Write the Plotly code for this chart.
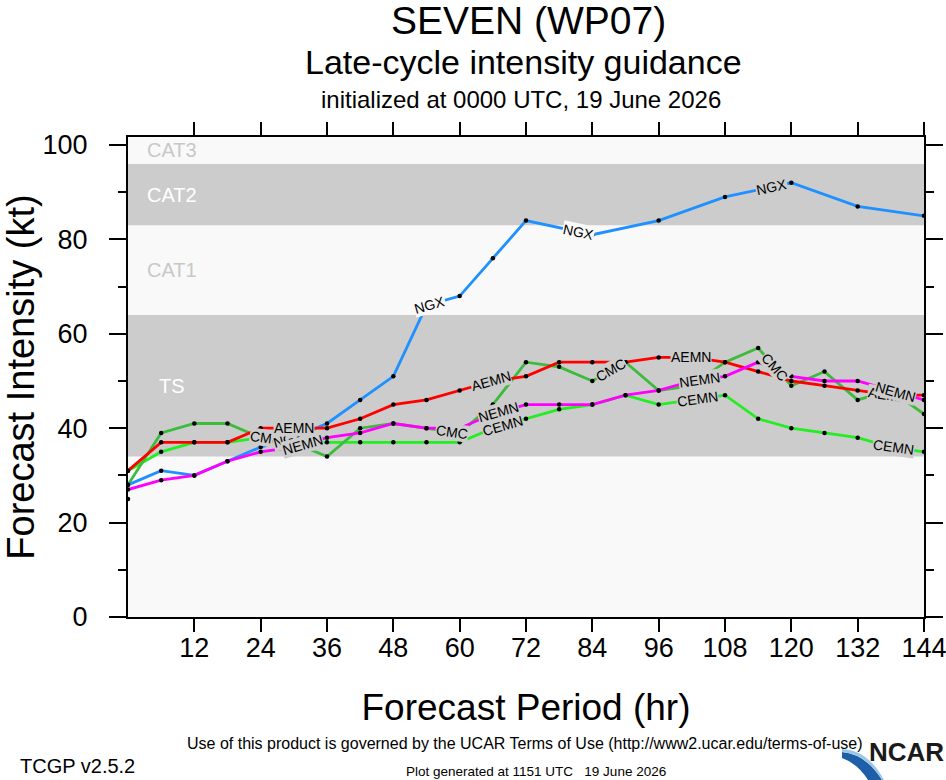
import numpy as np
import plotly.graph_objects as go

# forecast hours (6-hourly)
hours = list(range(0, 145, 6))

# intensity guidance (kt), None = no forecast at that hour
ngx = [28, 31, 30, 33, 36, 38, 41, 46, 51, 66, 68, 76, 84,
       None, 81, None, 84, None, 89, None, 92, None, 87, None, 85]
aemn = [31, 37, 37, 37, 40, 40, 40, 42, 45, 46, 48, 50, 51,
        54, 54, 54, 55, 55, 54, 52, 50, 49, 48, 47, 47]
nemn = [27, 29, 30, 33, 35, 36, 38, 39, 41, 40, 40, 43, 45,
        45, 45, 47, 48, 50, 51, 54, 51, 50, 50, 48, 46]
cemn = [31, 35, 37, 37, 38, 37, 37, 37, 37, 37, 37, 40, 42,
        44, 45, 47, 45, 46, 47, 42, 40, 39, 38, 36, 35]
cmc = [28, 39, 41, 41, 38, 37, 34, 40, 41, 40, 39, 45, 54,
       53, 50, 54, 48, 49, 54, 57, 49, 52, 46, 48, 43]
init_hour = [0]
init_value = [25]

models = ["CEMN", "CMC", "NGX", "AEMN", "NEMN"]
model_values = {"NGX": ngx, "AEMN": aemn, "NEMN": nemn, "CEMN": cemn, "CMC": cmc}
model_colors = {"NGX": "#1E90FF", "AEMN": "#FF0000", "NEMN": "#FF00FF",
                "CEMN": "#22EE22", "CMC": "#3CBB3C"}
# hours where the model name is written along its line
label_hours = {"NGX": [29, 54.5, 81.5, 116.5], "AEMN": [30, 65.7, 101.9, 137.5],
               "NEMN": [31.5, 67, 103.3, 138.9], "CEMN": [30.5, 67.7, 103, 138.4],
               "CMC": [25, 58.6, 87.4, 117]}

# Saffir-Simpson bands
band_names = ["TD", "TS", "CAT1", "CAT2", "CAT3"]
band_lows = [0, 34, 64, 83, 96]
band_highs = [34, 64, 83, 96, 113]

Y_TOP = 101.7
LIGHT = "#F9F9F9"
GRAY = "#CCCCCC"
band_fill = {"TD": LIGHT, "TS": GRAY, "CAT1": LIGHT, "CAT2": GRAY, "CAT3": LIGHT}
band_text = {"TS": "white", "CAT1": "#C8C8C8", "CAT2": "white", "CAT3": "#C8C8C8"}

W, H = 946, 780
ML, MR, MT, MB = 128, 22, 137, 163
PW, PH = W - ML - MR, H - MT - MB
px_hr = PW / 144.0
px_kt = PH / Y_TOP

FONT = "Liberation Sans, Arial, Helvetica, sans-serif"


def fx(px):
    # page pixel -> paper x (paper is the plot area)
    return (px - ML) / PW


def fy(py):
    return (H - MB - py) / PH


fig = go.Figure()

for name, lo, hi in zip(band_names, band_lows, band_highs):
    fig.add_shape(type="rect", xref="x domain", yref="y", x0=0, x1=1,
                  y0=lo, y1=min(hi, Y_TOP), fillcolor=band_fill[name],
                  line_width=0, layer="below")
    if name in band_text:
        fig.add_annotation(x=8, y=(lo + min(hi, Y_TOP)) / 2, text=name,
                           showarrow=False, font=dict(size=20, color=band_text[name], family=FONT))


def band_color(v):
    for name, lo, hi in zip(band_names, band_lows, band_highs):
        if lo <= v < hi:
            return band_fill[name]
    return LIGHT


for m in models:
    vals = model_values[m]
    fig.add_trace(go.Scatter(
        x=hours, y=vals, mode="lines+markers", name=m, connectgaps=True,
        line=dict(color=model_colors[m], width=2.8),
        marker=dict(color="black", size=4.5), showlegend=False))
    xs = np.array([h for h, v in zip(hours, vals) if v is not None], float)
    ys = np.array([v for v in vals if v is not None], float)
    for lh in label_hours[m]:
        ly = float(np.interp(lh, xs, ys))
        i = max(1, int(np.searchsorted(xs, lh)))
        i = min(i, len(xs) - 1)
        ang = -np.degrees(np.arctan2((ys[i] - ys[i - 1]) * px_kt, (xs[i] - xs[i - 1]) * px_hr))
        fig.add_annotation(x=lh, y=ly, text=m, showarrow=False, textangle=ang,
                           font=dict(size=14, color="black", family=FONT),
                           bgcolor=band_color(ly), borderpad=0)

fig.add_trace(go.Scatter(x=init_hour, y=init_value, mode="markers",
                         marker=dict(color="black", size=4.5), showlegend=False))

# titles and footer: (text, centre x px, centre y px, size, anchor)
texts = [
    ("SEVEN (WP07)", 528, 21, 39, "center"),
    ("Late-cycle intensity guidance", 523, 62, 34, "center"),
    ("initialized at 0000 UTC, 19 June 2026", 521, 99, 24, "center"),
    ("Use of this product is governed by the UCAR Terms of Use (http://www2.ucar.edu/terms-of-use)",
     525, 743, 16, "center"),
    ("TCGP v2.5.2", 18, 766, 20, "left"),
    ("Plot generated at 1151 UTC &nbsp; 19 June 2026", 536, 771, 13.5, "center"),
]
for t, x, y, s, anc in texts:
    fig.add_annotation(xref="paper", yref="paper", x=fx(x), y=fy(y), xanchor=anc,
                       yanchor="middle", text=t, showarrow=False,
                       font=dict(size=s, color="black", family=FONT))

fig.add_annotation(xref="paper", yref="paper", x=fx(946), y=fy(769), xanchor="right",
                   text="<b>NCAR</b>", showarrow=False,
                   font=dict(size=26, color="#1a1a1a", family="Liberation Sans Narrow, Arial Narrow, " + FONT))
# logo swoosh
fig.add_shape(type="path", xref="paper", yref="paper", layer="above",
              path="M %f %f Q %f %f %f %f L %f %f Q %f %f %f %f Z" % (
                  fx(842), fy(752), fx(866), fy(754), fx(882), fy(780),
                  fx(868), fy(780), fx(858), fy(764), fx(842), fy(758)),
              fillcolor="#1F5FA8", line_width=0)
fig.add_shape(type="path", xref="paper", yref="paper", layer="above",
              path="M %f %f Q %f %f %f %f L %f %f Q %f %f %f %f Z" % (
                  fx(842), fy(752), fx(866), fy(754), fx(882), fy(780),
                  fx(884), fy(780), fx(868), fy(750), fx(842), fy(749)),
              fillcolor="#9CC8E8", line_width=0)

axis_common = dict(showline=True, linewidth=2, linecolor="black", mirror="ticks",
                   ticks="outside", tickcolor="black", tickwidth=1.5, showgrid=False,
                   zeroline=False, automargin=False, ticklabeloverflow="allow",
                   tickfont=dict(size=27, color="black", family=FONT))

fig.update_xaxes(range=[0, 144], tickvals=list(range(12, 145, 12)), ticklen=13,
                 ticklabelstandoff=-7,
                 title=dict(text="Forecast Period (hr)", standoff=32,
                            font=dict(size=37, color="black", family=FONT)),
                 **axis_common)
fig.update_yaxes(range=[0, Y_TOP], tickvals=list(range(0, 101, 20)), ticklen=17,
                 minor=dict(tickvals=list(range(10, 100, 20)), ticklen=8, ticks="outside",
                            tickcolor="black", tickwidth=1.5),
                 ticklabelstandoff=16,
                 title=dict(text="Forecast Intensity (kt)", standoff=20,
                            font=dict(size=38, color="black", family=FONT)),
                 **axis_common)

fig.update_layout(width=W, height=H, margin=dict(l=ML, r=MR, t=MT, b=MB, autoexpand=False),
                  paper_bgcolor="white", plot_bgcolor=LIGHT, showlegend=False,
                  font=dict(family=FONT))

# drop the browser's default page margin so the figure sits at the window corner
fig.write_html("out.html", config={"displayModeBar": False},
               post_script="document.body.style.margin='0';")
